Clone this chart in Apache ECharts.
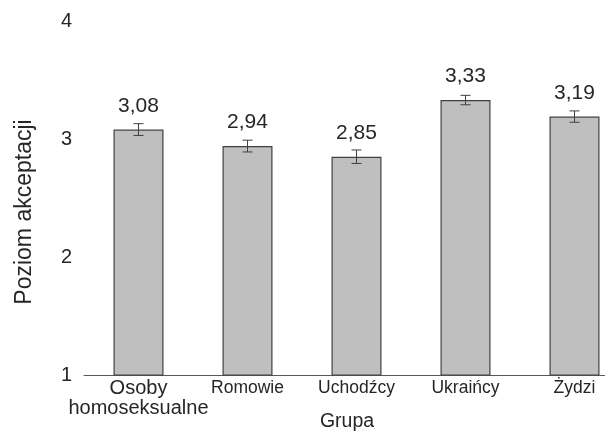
<!DOCTYPE html>
<html>
<head>
<meta charset="utf-8">
<script src="https://cdn.jsdelivr.net/npm/echarts@6/dist/echarts.min.js"></script>
<style>
html,body{margin:0;padding:0;background:#fff;}
#c{width:605px;height:434px;}
</style>
</head>
<body>
<div id="c"></div>
<script>
const categories = ['Osoby\nhomoseksualne', 'Romowie', 'Uchodźcy', 'Ukraińcy', 'Żydzi'];
const values = [3.08, 2.94, 2.85, 3.33, 3.19];
const errors = [0.05, 0.05, 0.057, 0.04, 0.048];
const yTicks = [1, 2, 3, 4];

const FONT = '"Liberation Sans", Arial, sans-serif';
const TXT = '#262626';
const chart = echarts.init(document.getElementById('c'), null, {renderer: 'canvas'});

const catData = categories.map((c, i) => i === 0
  ? {value: c, textStyle: {fontSize: 20}}
  : {value: c});

chart.setOption({
  animation: false,
  backgroundColor: '#fff',
  grid: {left: 84, top: 21, width: 545, bottom: 59, outerBoundsMode: 'none', containLabel: false},
  xAxis: {
    type: 'category',
    data: catData,
    axisLine: {lineStyle: {color: '#595959', width: 1}},
    axisTick: {show: false},
    axisLabel: {interval: 0, margin: 3, color: TXT, fontSize: 17.5, lineHeight: 20, fontFamily: FONT}
  },
  yAxis: {
    type: 'value',
    min: yTicks[0],
    max: yTicks[yTicks.length - 1],
    interval: 1,
    axisLine: {show: false},
    axisTick: {show: false},
    splitLine: {show: false},
    axisLabel: {margin: 12, color: TXT, fontSize: 20, fontFamily: FONT}
  },
  graphic: [
    {type: 'text', x: 347, y: 422, style: {text: 'Grupa', align: 'center', verticalAlign: 'middle', font: '19.5px ' + FONT, fill: TXT}},
    {type: 'text', x: 25, y: 212, rotation: Math.PI / 2, style: {text: 'Poziom akceptacji', align: 'center', verticalAlign: 'middle', font: '23px ' + FONT, fill: TXT}}
  ],
  series: [
    {
      type: 'bar',
      data: values,
      barWidth: 50,
      itemStyle: {color: '#bfbfbf', borderColor: '#404040', borderWidth: 1.2},
      label: {
        show: true, position: 'top', distance: 13,
        fontSize: 21, color: TXT, fontFamily: FONT,
        formatter: p => p.value.toFixed(2).replace('.', ',')
      },
      z: 2
    },
    {
      type: 'custom',
      data: values.map((v, i) => [i, v - errors[i], v + errors[i]]),
      renderItem: function (params, api) {
        const x = api.value(0);
        const lo = api.coord([x, api.value(1)]);
        const hi = api.coord([x, api.value(2)]);
        const hw = 5;
        const st = {stroke: '#404040', lineWidth: 1};
        return {
          type: 'group',
          children: [
            {type: 'line', shape: {x1: lo[0], y1: lo[1], x2: hi[0], y2: hi[1]}, style: st},
            {type: 'line', shape: {x1: lo[0] - hw, y1: lo[1], x2: lo[0] + hw, y2: lo[1]}, style: st},
            {type: 'line', shape: {x1: hi[0] - hw, y1: hi[1], x2: hi[0] + hw, y2: hi[1]}, style: st}
          ]
        };
      },
      z: 3
    }
  ]
});
</script>
</body>
</html>
